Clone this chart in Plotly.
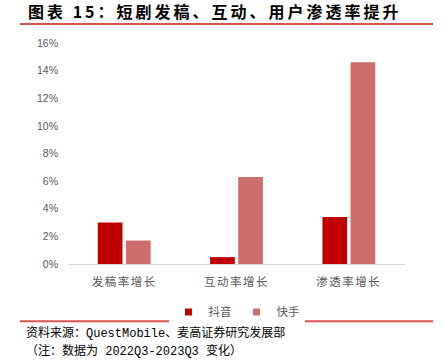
import plotly.graph_objects as go

categories = ["发稿率增长", "互动率增长", "渗透率增长"]
douyin = [0.030, 0.005, 0.034]
kuaishou = [0.017, 0.063, 0.146]
series_names = ["抖音", "快手"]
colors = ["#C00000", "#CC6E6C"]
ytick_vals = [0, 0.02, 0.04, 0.06, 0.08, 0.10, 0.12, 0.14, 0.16]
ytick_text = ["0%", "2%", "4%", "6%", "8%", "10%", "12%", "14%", "16%"]

title_text = "图表 15：短剧发稿、互动、用户渗透率提升"
source_text = "资料来源：QuestMobile、麦高证券研究发展部"
note_text = "（注：数据为 2022Q3-2023Q3 变化）"

W, H = 443, 360
L, R, T, B = 68, 38, 43, 95.5
pw, ph = W - L - R, H - T - B

def px(x):
    return (x - L) / pw

def py(y):
    return (H - B - y) / ph

CJK = "Noto Sans CJK SC, sans-serif"

fig = go.Figure()
for name, vals, c in zip(series_names, [douyin, kuaishou], colors):
    fig.add_trace(go.Bar(x=categories, y=vals, name=name, showlegend=False,
                         marker=dict(color=c, line=dict(width=0))))
# legend entries (small square swatches)
for name, c in zip(series_names, colors):
    fig.add_trace(go.Scatter(x=[None], y=[None], mode="markers", name=name,
                             marker=dict(symbol="square", size=7, color=c)))

cat_ticktext = ["<span style='letter-spacing:1.5px'>" + c + "</span>" for c in categories]

fig.update_layout(
    width=W, height=H,
    margin=dict(l=L, r=R, t=T, b=B),
    paper_bgcolor="white", plot_bgcolor="white",
    barmode="group", bargap=0.5, bargroupgap=0.12,
    showlegend=True,
    legend=dict(orientation="h", x=0.5, xanchor="center", y=py(298), yanchor="top",
                font=dict(family=CJK, size=11.5, color="#595959"),
                itemwidth=30, tracegroupgap=0),
    xaxis=dict(showline=True, linecolor="#D9D9D9", linewidth=1, ticks="",
               tickvals=categories, ticktext=cat_ticktext, ticklabelstandoff=7,
               tickfont=dict(family=CJK, size=11.5, color="#595959"), showgrid=False),
    yaxis=dict(range=[0, 0.16], tickvals=ytick_vals, ticktext=ytick_text, showgrid=False,
               zeroline=False, showline=False, ticklabelstandoff=9,
               tickfont=dict(family="Liberation Sans, Arial, sans-serif", size=10.5, color="#595959")),
)

shapes = [
    dict(type="line", xref="paper", yref="paper", x0=px(20), x1=px(433), y0=py(24), y1=py(24),
         line=dict(color="#D9534F", width=2)),
    dict(type="line", xref="paper", yref="paper", x0=px(20), x1=px(433), y0=py(322), y1=py(322),
         line=dict(color="#D9534F", width=2)),
]
fig.update_layout(shapes=shapes)

fig.add_annotation(text="<b><span style='letter-spacing:3px'>" + title_text + "</span></b>",
                   xref="paper", yref="paper", x=px(26), y=py(11), xanchor="left", yanchor="middle",
                   showarrow=False, font=dict(family=CJK, size=16, color="black"))
fig.add_annotation(text=source_text,
                   xref="paper", yref="paper", x=px(24), y=py(334), xanchor="left", yanchor="middle",
                   showarrow=False, font=dict(family="Liberation Mono, " + CJK, size=12, color="black"))
fig.add_annotation(text=note_text,
                   xref="paper", yref="paper", x=px(24), y=py(352), xanchor="left", yanchor="middle",
                   showarrow=False, font=dict(family="Liberation Mono, " + CJK, size=12, color="black"))

fig.write_html("out.html")
